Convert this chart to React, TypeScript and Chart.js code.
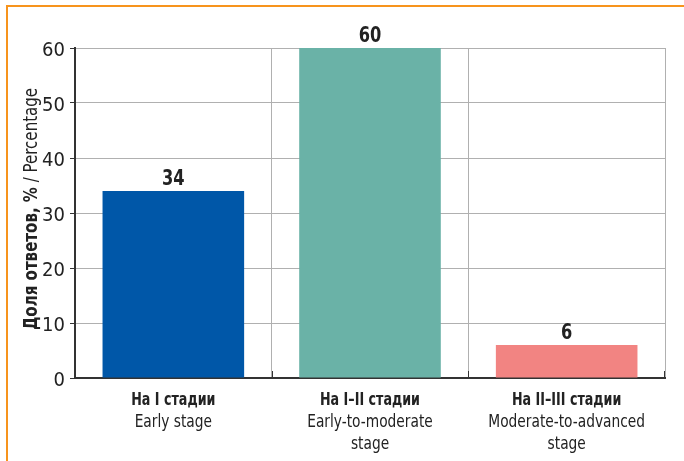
import React, { useEffect, useRef } from "react";
import { Chart, registerables } from "chart.js";

Chart.register(...registerables);

const categoriesRu = ["На I стадии", "На I–II стадии", "На II–III стадии"];
const categoriesEn = [["Early stage"], ["Early-to-moderate", "stage"], ["Moderate-to-advanced", "stage"]];
const values = [34, 60, 6];
const barColors = ["#0057a8", "#6ab2a7", "#f28482"];
const yTicks = [0, 10, 20, 30, 40, 50, 60];
const yTitleBold = "Доля ответов, %";
const yTitleNormal = " / Percentage";

const FONT = "'DejaVu Sans Condensed', 'Liberation Sans Narrow', Arial, sans-serif";

function drawScaled(ctx: any, text: string, x: number, y: number, font: string, sx: number, align = "center") {
  ctx.save();
  ctx.font = font;
  ctx.textAlign = align;
  ctx.textBaseline = "alphabetic";
  ctx.translate(x, y);
  ctx.scale(sx, 1);
  ctx.fillText(text, 0, 0);
  ctx.restore();
}

const overlayPlugin = {
  id: "overlay",
  afterDraw(chart: any) {
    const ctx = chart.ctx;
    const area = chart.chartArea;
    const xs = chart.scales.x;
    const ys = chart.scales.y;
    ctx.save();
    // orange frame
    ctx.fillStyle = "#f7941d";
    ctx.fillRect(6, 5, chart.width - 6, 2);
    ctx.fillRect(6, 5, 2, chart.height - 5);

    // inside tick marks at category boundaries
    ctx.strokeStyle = "#333";
    ctx.lineWidth = 1;
    for (let i = 1; i <= categoriesRu.length; i++) {
      const x = Math.round((xs.getPixelForValue(i - 1) + xs.getPixelForValue(i)) / 2) + 0.5;
      const xx = i === categoriesRu.length ? area.right - 0.5 : x;
      ctx.beginPath();
      ctx.moveTo(xx, area.bottom);
      ctx.lineTo(xx, area.bottom - 7);
      ctx.stroke();
    }

    // x labels
    ctx.fillStyle = "#222";
    categoriesRu.forEach((c, i) => {
      const x = xs.getPixelForValue(i);
      drawScaled(ctx, c, x, 405, "bold 17px " + FONT, 0.83);
      categoriesEn[i].forEach((l, j) => drawScaled(ctx, l, x, 427 + j * 22, "17px " + FONT, 0.9));
    });

    // value labels
    values.forEach((v, i) => {
      const x = xs.getPixelForValue(i);
      const y = ys.getPixelForValue(v);
      drawScaled(ctx, String(v), x, y - 6, "bold 22px " + FONT, 0.82);
    });

    // y title
    ctx.translate(37, (area.top + area.bottom) / 2 - 4);
    ctx.rotate(-Math.PI / 2);
    const sx = 0.88;
    ctx.font = "bold 19px " + FONT;
    const w1 = ctx.measureText(yTitleBold).width * sx;
    ctx.font = "19px " + FONT;
    const w2 = ctx.measureText(yTitleNormal).width * sx;
    const start = -(w1 + w2) / 2;
    drawScaled(ctx, yTitleBold, start, 0, "bold 19px " + FONT, sx, "left");
    drawScaled(ctx, yTitleNormal, start + w1, 0, "19px " + FONT, sx, "left");
    ctx.restore();
  },
};

export default function App() {
  const ref = useRef<HTMLCanvasElement>(null);
  useEffect(() => {
    if (!ref.current) return;
    const chart = new Chart(ref.current, {
      type: "bar",
      data: {
        labels: categoriesRu,
        datasets: [
          {
            data: values,
            backgroundColor: barColors,
            borderWidth: 0,
            categoryPercentage: 1,
            barPercentage: 0.72,
          },
        ],
      },
      options: {
        animation: false,
        responsive: false,
        devicePixelRatio: 1,
        layout: { padding: { left: 0, right: 19, top: 48, bottom: 83 } },
        plugins: { legend: { display: false }, tooltip: { enabled: false } },
        scales: {
          x: {
            offset: true,
            grid: { offset: true, color: "#b0b0b0", lineWidth: 1, drawTicks: false },
            border: { color: "#333", width: 2 },
            ticks: { display: false },
            afterFit: (s: any) => {
              s.height = 0;
            },
          },
          y: {
            min: 0,
            max: 60,
            afterBuildTicks: (s: any) => {
              s.ticks = yTicks.map((v) => ({ value: v }));
            },
            grid: { color: "#b0b0b0", lineWidth: 1, tickColor: "#333", tickLength: 5 },
            border: { color: "#333", width: 2 },
            ticks: { color: "#222", font: { family: FONT, size: 20 }, padding: 5, labelOffset: 3 },
            afterFit: (s: any) => {
              s.width = 75;
            },
          },
        },
      },
      plugins: [overlayPlugin],
    });
    return () => chart.destroy();
  }, []);
  return (
    <div style={{ position: "fixed", left: 0, top: 0, width: 684, height: 461, background: "#fff" }}>
      <canvas ref={ref} width={684} height={461} style={{ width: 684, height: 461 }} />
    </div>
  );
}
